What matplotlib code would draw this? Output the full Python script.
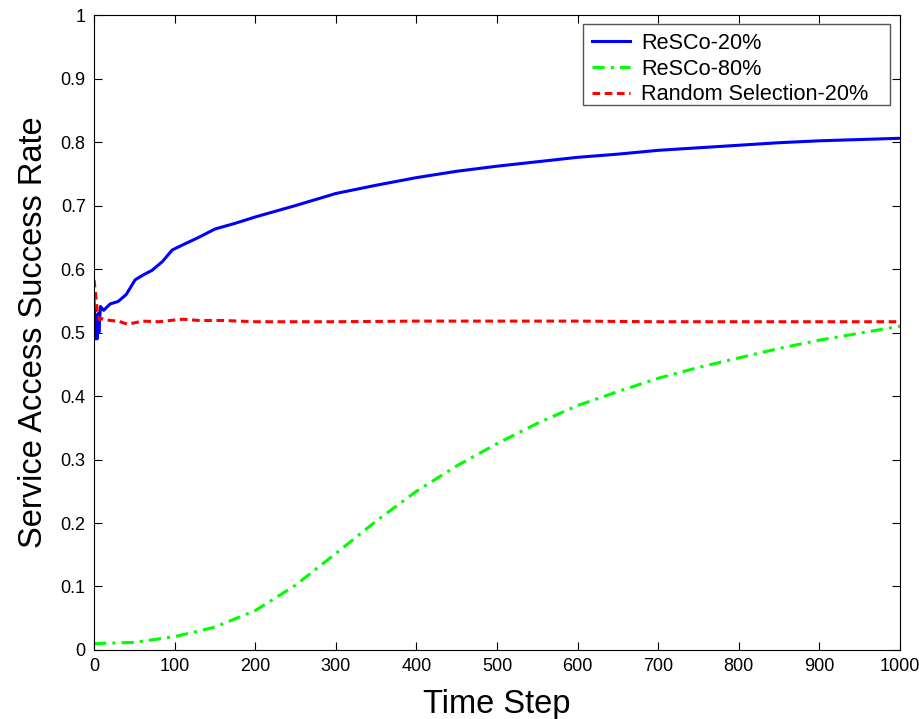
import numpy as np
import matplotlib.pyplot as plt
from matplotlib.patches import Rectangle

plt.rcParams['font.family'] = ['Liberation Sans', 'DejaVu Sans']

# values
steps_blue = [0, 1, 2, 3, 4, 5, 6, 8, 12, 20, 30, 40, 51, 60, 72, 85, 97, 110, 130, 150, 175,
              200, 250, 300, 350, 400, 450, 500, 550, 600, 650, 700, 750, 800, 850, 900, 950, 1000]
resco20 = [0.55, 0.52, 0.49, 0.51, 0.49, 0.53, 0.50, 0.541, 0.535, 0.545, 0.549, 0.56, 0.583,
           0.59, 0.598, 0.612, 0.63, 0.638, 0.65, 0.663, 0.672,
           0.682, 0.700, 0.719, 0.732, 0.744, 0.754, 0.762, 0.769, 0.776, 0.781, 0.787,
           0.791, 0.795, 0.799, 0.802, 0.804, 0.806]

steps_green = [0, 50, 100, 150, 200, 250, 300, 350, 400, 450, 500, 550, 600, 650, 700,
               750, 800, 850, 900, 950, 1000]
resco80 = [0.01, 0.012, 0.021, 0.036, 0.062, 0.102, 0.152, 0.203, 0.25, 0.29, 0.325, 0.357,
           0.385, 0.407, 0.428, 0.445, 0.46, 0.475, 0.488, 0.499, 0.51]

steps_red = [0, 2, 4, 7, 10, 20, 30, 42, 60, 80, 110, 130, 160, 200, 300, 400, 500, 600,
             700, 800, 900, 1000]
random20 = [0.583, 0.56, 0.535, 0.52, 0.522, 0.519, 0.518, 0.513, 0.518, 0.517, 0.521, 0.519,
            0.519, 0.517, 0.517, 0.518, 0.518, 0.518, 0.517, 0.517, 0.517, 0.517]

fig = plt.figure(figsize=(9.19, 7.19), dpi=100)
ax = fig.add_axes([0.1023, 0.096, 0.877, 0.883])

ax.plot(steps_blue, resco20, color='#0000ff', lw=2.2, label='ReSCo-20%')
ax.plot(steps_green, resco80, color='#00ff00', lw=2.2, ls=(0, (4, 2, 1, 2)), label='ReSCo-80%')
ax.plot(steps_red, random20, color='#ff0000', lw=2.2, ls=(0, (2.5, 1.5)), label='Random Selection-20%')

ax.set_xlim(0, 1000)
ax.set_ylim(0, 1)
ax.set_xticks(np.arange(0, 1001, 100))
ax.set_yticks(np.arange(0, 1.01, 0.1))
ax.set_yticklabels(['0', '0.1', '0.2', '0.3', '0.4', '0.5', '0.6', '0.7', '0.8', '0.9', '1'])
ax.tick_params(direction='in', top=True, right=True, length=6, labelsize=13, pad=6)
ax.set_xlabel('Time Step', fontsize=23.5, labelpad=10)
ax.set_ylabel('Service Access Success Rate', fontsize=23.5, labelpad=8)

# legend box drawn separately (it is wider than the entries on the right)
ax.add_patch(Rectangle((0.6067, 0.8583), 0.381, 0.1275, transform=ax.transAxes,
                       facecolor='white', edgecolor='#555555', lw=1.0, zorder=4.9))
leg = ax.legend(loc='upper left', bbox_to_anchor=(0.6067, 0.9858), borderaxespad=0,
                fontsize=15.6, frameon=False,
                handlelength=1.75, handletextpad=0.55, borderpad=0.4, labelspacing=0.22)

fig.savefig('out.png', dpi=100)
